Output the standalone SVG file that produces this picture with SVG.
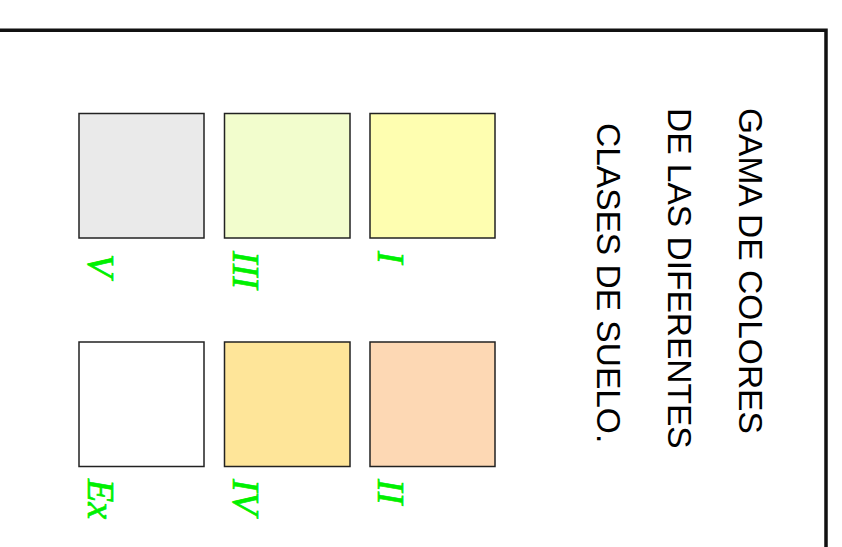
<svg xmlns="http://www.w3.org/2000/svg" width="842" height="547" viewBox="0 0 842 547">
<style>
.sq{stroke:#222;stroke-width:1.5}
.title{font-family:"Liberation Sans",Arial,sans-serif;font-size:33.5px;fill:#000}
.lab{font-family:"Liberation Serif","Times New Roman",serif;font-style:italic;font-size:38px;fill:#00f000;stroke:#00f000;stroke-width:0.7}
</style>
<rect x="0" y="0" width="842" height="547" fill="#fff"/>
<path d="M0 30.2H826V547" fill="none" stroke="#111" stroke-width="3.5"/>
<g id="title">
<text class="title" transform="translate(739,108) rotate(90)">GAMA DE COLORES</text>
<text class="title" transform="translate(668,108) rotate(90)">DE LAS DIFERENTES</text>
<text class="title" transform="translate(597,123) rotate(90)">CLASES DE SUELO.</text>
</g>
<g id="node-V"><rect class="sq" x="79" y="113.5" width="125" height="124.5" fill="#eaeaea"/><text class="lab" transform="translate(88,254) rotate(90)">V</text></g>
<g id="node-III"><rect class="sq" x="224.5" y="113.5" width="125.5" height="124.5" fill="#f2fdcd"/><text class="lab" transform="translate(233,251) rotate(90)">III</text></g>
<g id="node-I"><rect class="sq" x="370" y="113.5" width="125" height="124.5" fill="#fefeb0"/><text class="lab" transform="translate(378,251) rotate(90)">I</text></g>
<g id="node-Ex"><rect class="sq" x="79" y="342" width="125" height="124.5" fill="#ffffff"/><text class="lab" transform="translate(88,479) rotate(90)">Ex</text></g>
<g id="node-IV"><rect class="sq" x="224.5" y="342" width="125.5" height="124.5" fill="#fee599"/><text class="lab" transform="translate(233,479) rotate(90)">IV</text></g>
<g id="node-II"><rect class="sq" x="370" y="342" width="125" height="124.5" fill="#fdd8b4"/><text class="lab" transform="translate(378,479) rotate(90)">II</text></g>
<g id="connectors"/>
</svg>
